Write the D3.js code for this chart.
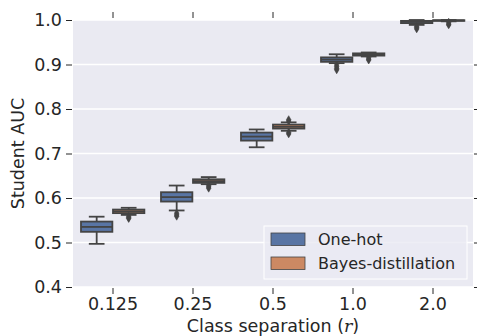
<!DOCTYPE html>
<html>
<head>
<meta charset="utf-8">
<script src="https://cdn.jsdelivr.net/npm/d3@7"></script>
<style>
  body { margin: 0; background: #fff; }
  text { font-family: "DejaVu Sans", sans-serif; fill: #262626; }
</style>
</head>
<body>
<div id="chart"></div>
<script>
const categories = ['0.125', '0.25', '0.5', '1.0', '2.0'];
const seriesNames = ['One-hot', 'Bayes-distillation'];
const seriesColors = ['#5975a4', '#cc8963'];

// [lower whisker, q1, median, q3, upper whisker]
const oneHotStats = [
  [0.497, 0.524, 0.535, 0.547, 0.558],
  [0.572, 0.592, 0.602, 0.613, 0.628],
  [0.714, 0.729, 0.738, 0.747, 0.754],
  [0.903, 0.906, 0.911, 0.916, 0.923],
  [0.989, 0.993, 0.996, 0.998, 1.000]
];
const bayesStats = [
  [0.562, 0.566, 0.570, 0.574, 0.578],
  [0.631, 0.634, 0.638, 0.642, 0.647],
  [0.751, 0.756, 0.760, 0.765, 0.770],
  [0.918, 0.920, 0.922, 0.925, 0.927],
  [0.997, 0.998, 0.999, 0.9995, 1.000]
];
const oneHotOutliers = [
  [],
  [0.566, 0.562, 0.559],
  [],
  [0.899, 0.895, 0.891, 0.888],
  [0.986, 0.983, 0.980]
];
const bayesOutliers = [
  [0.559, 0.556, 0.554],
  [0.628, 0.625, 0.622],
  [0.773, 0.776, 0.747, 0.744],
  [0.915, 0.912, 0.910],
  [0.995, 0.991, 0.989]
];
const yTicks = [0.4, 0.5, 0.6, 0.7, 0.8, 0.9, 1.0];

const width = 477, height = 336;
const margin = { top: 20, right: 4, bottom: 49, left: 73 };
const innerW = width - margin.left - margin.right;
const innerH = height - margin.top - margin.bottom;
const edge = '#444444';
const lw = 1.8;

const svg = d3.select('#chart').append('svg')
  .attr('width', width).attr('height', height);
const g = svg.append('g').attr('transform', `translate(${margin.left},${margin.top})`);

const x = d3.scaleBand().domain(categories).range([0, innerW]).padding(0);
const xs = d3.scaleBand().domain(seriesNames).range([0, x.bandwidth() * 0.8]).padding(0);
const y = d3.scaleLinear().domain([0.4, 1.0]).range([innerH, 0]);

g.append('rect').attr('width', innerW).attr('height', innerH).attr('fill', '#eaeaf2');

g.selectAll('.grid').data(yTicks).enter().append('line')
  .attr('x1', 0).attr('x2', innerW)
  .attr('y1', d => y(d)).attr('y2', d => y(d))
  .attr('stroke', '#fff').attr('stroke-width', 1.5);

// axes: ticks on all four sides, outside
const tickStyle = sel => {
  sel.select('.domain').remove();
  sel.selectAll('.tick line').attr('stroke', '#262626').attr('stroke-width', 1);
  sel.selectAll('.tick text').style('font-size', '17.5px').attr('fill', '#262626');
};
g.append('g').attr('transform', `translate(0,${innerH + 1})`)
  .call(d3.axisBottom(x).tickSize(6).tickPadding(4)).call(tickStyle);
g.append('g').attr('transform', 'translate(0,-2)')
  .call(d3.axisTop(x).tickSize(6).tickFormat('')).call(tickStyle);
g.append('g').attr('transform', 'translate(-1,0)')
  .call(d3.axisLeft(y).tickValues(yTicks).tickFormat(d3.format('.1f')).tickSize(6).tickPadding(4))
  .call(tickStyle);
g.append('g').attr('transform', `translate(${innerW + 1},0)`)
  .call(d3.axisRight(y).tickValues(yTicks).tickSize(3).tickFormat('')).call(tickStyle);

const series = [
  { name: seriesNames[0], color: seriesColors[0], stats: oneHotStats, outliers: oneHotOutliers },
  { name: seriesNames[1], color: seriesColors[1], stats: bayesStats, outliers: bayesOutliers }
];

const diamond = d3.symbol().type(d3.symbolDiamond).size(18);

series.forEach(s => {
  categories.forEach((c, i) => {
    const st = s.stats[i];
    const bx = x(c) + x.bandwidth() * 0.1 + xs(s.name);
    const bw = xs.bandwidth() * 0.98;
    const cx = bx + bw / 2;
    const bg = g.append('g');
    // whiskers
    bg.append('line').attr('x1', cx).attr('x2', cx).attr('y1', y(st[0])).attr('y2', y(st[1]))
      .attr('stroke', edge).attr('stroke-width', lw);
    bg.append('line').attr('x1', cx).attr('x2', cx).attr('y1', y(st[3])).attr('y2', y(st[4]))
      .attr('stroke', edge).attr('stroke-width', lw);
    // caps
    [st[0], st[4]].forEach(v => {
      bg.append('line').attr('x1', cx - bw / 4).attr('x2', cx + bw / 4)
        .attr('y1', y(v)).attr('y2', y(v)).attr('stroke', edge).attr('stroke-width', lw);
    });
    // box
    bg.append('rect').attr('x', bx).attr('width', bw)
      .attr('y', y(st[3])).attr('height', Math.max(0.5, y(st[1]) - y(st[3])))
      .attr('fill', s.color).attr('stroke', edge).attr('stroke-width', lw);
    // median
    bg.append('line').attr('x1', bx).attr('x2', bx + bw).attr('y1', y(st[2])).attr('y2', y(st[2]))
      .attr('stroke', edge).attr('stroke-width', lw);
    // outliers
    bg.selectAll('.flier').data(s.outliers[i]).enter().append('path')
      .attr('d', diamond)
      .attr('transform', d => `translate(${cx},${y(d)})`)
      .attr('fill', edge).attr('stroke', edge).attr('stroke-width', 0.6);
  });
});

// legend
const lg = svg.append('g').attr('transform', 'translate(264,226)');
lg.append('rect').attr('width', 203).attr('height', 53)
  .attr('fill', '#eaeaf2').attr('fill-opacity', 0.8).attr('stroke', '#fff').attr('stroke-width', 1);
series.forEach((s, i) => {
  lg.append('rect').attr('x', 7).attr('y', 7 + i * 24).attr('width', 34).attr('height', 12.5)
    .attr('fill', s.color).attr('stroke', edge).attr('stroke-width', 0.8);
  lg.append('text').attr('x', 54).attr('y', 19 + i * 24)
    .style('font-size', '16px').text(s.name);
});

// axis labels
svg.append('text').attr('x', margin.left + innerW / 2).attr('y', 332)
  .attr('text-anchor', 'middle').style('font-size', '17.5px')
  .html('Class separation (<tspan font-family="DejaVu Serif" font-style="italic">r</tspan>)');
svg.append('text').attr('transform', `translate(24,${margin.top + innerH / 2}) rotate(-90)`)
  .attr('text-anchor', 'middle').style('font-size', '17.5px').text('Student AUC');
</script>
</body>
</html>
